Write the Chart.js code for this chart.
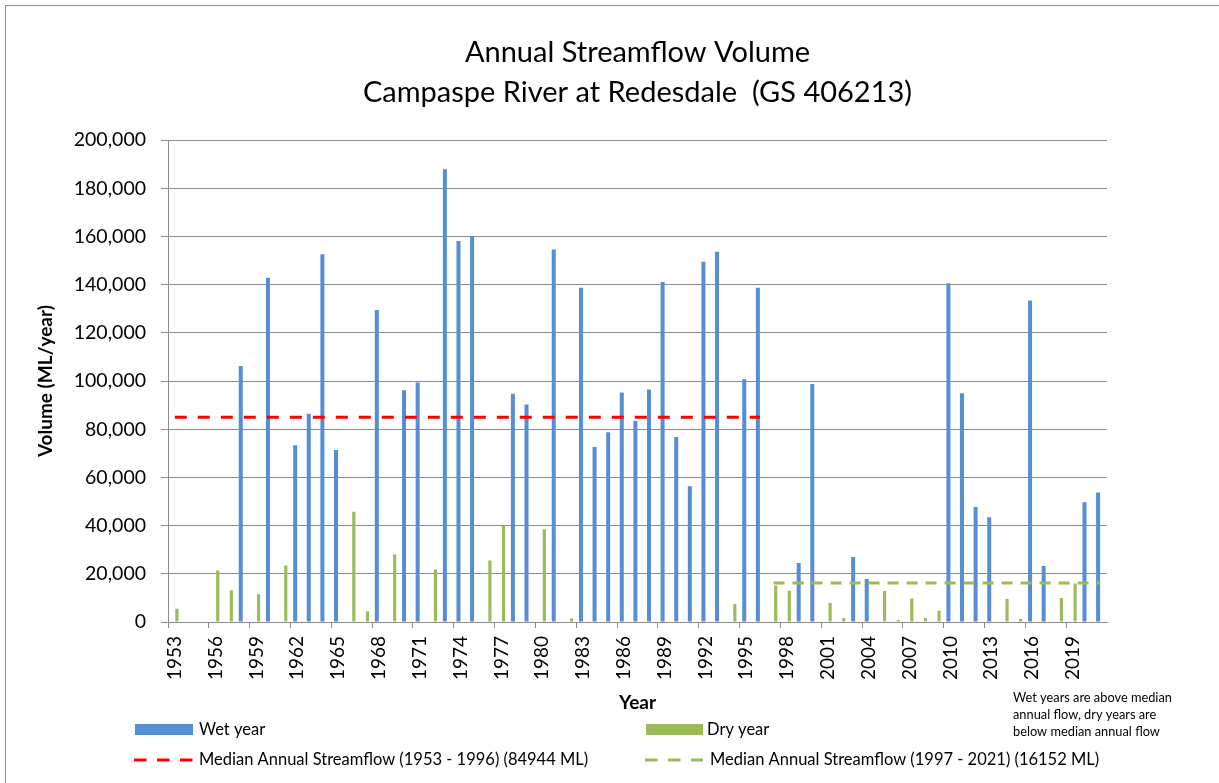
<!DOCTYPE html>
<html>
<head>
<meta charset="utf-8">
<title>Annual Streamflow Volume - Campaspe River at Redesdale</title>
<script src="https://cdn.jsdelivr.net/npm/chart.js@4.4.1/dist/chart.umd.min.js"></script>
<style>
  html, body { margin: 0; padding: 0; background: #fff; }
  #wrap { position: relative; width: 1219px; height: 783px; }
</style>
</head>
<body>
<div id="wrap"><canvas id="chart" width="1219" height="783"></canvas></div>
<script>
const years = [
  "1953", "1954", "1955", "1956", "1957", "1958", "1959", "1960", "1961", "1962",
  "1963", "1964", "1965", "1966", "1967", "1968", "1969", "1970", "1971", "1972",
  "1973", "1974", "1975", "1976", "1977", "1978", "1979", "1980", "1981", "1982",
  "1983", "1984", "1985", "1986", "1987", "1988", "1989", "1990", "1991", "1992",
  "1993", "1994", "1995", "1996", "1997", "1998", "1999", "2000", "2001", "2002",
  "2003", "2004", "2005", "2006", "2007", "2008", "2009", "2010", "2011", "2012",
  "2013", "2014", "2015", "2016", "2017", "2018", "2019", "2020", "2021"
]

// ML/year, null where the year falls in the other group (or has no record)
const wetYear = [
  null, null, null, null, null, 106300, null, 142900, null, 73400,
  86400, 152700, 71400, null, null, 129500, null, 96200, 99400, null,
  187900, 158200, 159900, null, null, 94700, 90300, null, 154600, null,
  138800, 72600, 78800, 95300, 83500, 96500, 141100, 76800, 56400, 149500,
  153700, null, 100800, 138800, null, null, 24500, 98800, null, null,
  27000, 17800, null, null, null, null, null, 140600, 95000, 47700,
  43500, null, null, 133500, 23200, null, null, 49700, 53800
]

const dryYear = [
  5500, null, null, 21400, 13200, null, 11500, null, 23500, null,
  null, null, null, 45800, 4500, null, 28000, null, null, 21800,
  null, null, null, 25500, 39800, null, null, 38500, null, 1500,
  null, null, null, null, null, null, null, null, null, null,
  null, 7500, null, null, 15200, 13000, null, null, 7900, 1700,
  null, null, 12900, 800, 9800, 1700, 4700, null, null, null,
  null, 9500, 1200, null, null, 10000, 16000, null, null
]

const medianEarlyYears = ["1953", "1996"]
const medianEarlyValue = 84944
const medianLateYears = ["1997", "2021"]
const medianLateValue = 16152

const yTicksMajor = 20000
const noteLines = [
  "Wet years are above median",
  "annual flow, dry years are",
  "below median annual flow"
]

const FONT = "Lato, 'Open Sans', sans-serif"
const GREY = "#8c8c8c"

// legend laid out in two columns like the original spreadsheet chart
const legendSlots = [
  { x: 135, y: 730, w: 58, tx: 199 },
  { x: 646, y: 730, w: 57, tx: 707 },
  { x: 134, y: 760, w: 59, tx: 199 },
  { x: 645, y: 760, w: 58, tx: 710 }
]

const gridLegend = {
  id: "gridLegend",
  afterDraw(chart) {
    const ctx = chart.ctx
    ctx.save()

    // outer frame (right and bottom edges fall outside the picture)
    ctx.strokeStyle = GREY
    ctx.lineWidth = 1
    ctx.strokeRect(5.5, 5.5, 1400, 1000)

    ctx.font = `16.5px ${FONT}`
    ctx.textBaseline = "middle"
    ctx.textAlign = "left"
    chart.data.datasets.forEach((ds, i) => {
      const slot = legendSlots[i]
      if (!slot) return
      if (ds.type === "line") {
        ctx.strokeStyle = ds.borderColor
        ctx.lineWidth = 3
        ctx.setLineDash(ds.legendDash)
        ctx.beginPath()
        ctx.moveTo(slot.x, slot.y)
        ctx.lineTo(slot.x + slot.w, slot.y)
        ctx.stroke()
        ctx.setLineDash([])
      } else {
        ctx.fillStyle = ds.backgroundColor
        ctx.fillRect(slot.x, slot.y - 6, slot.w, 11)
      }
      ctx.fillStyle = "#000"
      ctx.fillText(ds.label, slot.tx, slot.y)
    })

    ctx.font = `12.8px ${FONT}`
    noteLines.forEach((line, i) => {
      ctx.fillText(line, 1013, 698 + i * 16.7)
    })
    ctx.restore()
  }
}

new Chart(document.getElementById("chart"), {
  type: "bar",
  data: {
    labels: years,
    datasets: [
      {
        label: "Wet year",
        data: wetYear,
        backgroundColor: "#558ed5",
        categoryPercentage: 0.62,
        barPercentage: 0.95,
        order: 2
      },
      {
        label: "Dry year",
        data: dryYear,
        backgroundColor: "#9bbb59",
        categoryPercentage: 0.62,
        barPercentage: 0.75,
        order: 2
      },
      {
        type: "line",
        label: "Median Annual Streamflow (1953 - 1996) (84944 ML)",
        data: medianEarlyYears.map(y => ({ x: y, y: medianEarlyValue })),
        borderColor: "#ff0000",
        borderWidth: 3,
        borderDash: [12, 11],
        legendDash: [12.5, 10.5],
        pointRadius: 0,
        fill: false,
        order: 1
      },
      {
        type: "line",
        label: "Median Annual Streamflow (1997 - 2021) (16152 ML)",
        data: medianLateYears.map(y => ({ x: y, y: medianLateValue })),
        borderColor: "#9bbb59",
        borderWidth: 3,
        borderDash: [11, 8],
        legendDash: [12.5, 10.5],
        pointRadius: 0,
        fill: false,
        order: 1
      }
    ]
  },
  options: {
    responsive: false,
    animation: false,
    layout: {
      padding: { left: 0, right: 112, top: 0, bottom: 66 }
    },
    plugins: {
      legend: { display: false },
      tooltip: { enabled: false },
      title: {
        display: true,
        fullSize: false,
        text: ["Annual Streamflow Volume", "Campaspe River at Redesdale  (GS 406213)"],
        color: "#000",
        font: { family: FONT, size: 29, weight: "normal", lineHeight: 1.4 },
        padding: { top: 32, bottom: 27 }
      }
    },
    scales: {
      x: {
        offset: true,
        grid: {
          offset: true,
          drawOnChartArea: false,
          drawTicks: true,
          tickLength: 6,
          tickColor: (c) => (c.index % 3 === 0 ? GREY : "rgba(0,0,0,0)")
        },
        border: { display: true, color: GREY, width: 1 },
        ticks: {
          autoSkip: false,
          minRotation: 90,
          maxRotation: 90,
          padding: 8,
          color: "#000",
          font: { family: FONT, size: 19 },
          callback(value, index) {
            return index % 3 === 0 ? this.getLabelForValue(value) : ""
          }
        },
        title: {
          display: true,
          text: "Year",
          color: "#000",
          font: { family: FONT, size: 19, weight: "bold" },
          padding: { top: 0, bottom: 3 }
        },
        afterFit(scale) { scale.height = 95 }
      },
      y: {
        min: 0,
        max: 200000,
        grid: {
          color: (c) => (c.tick && c.tick.value % yTicksMajor === 0 ? GREY : "rgba(0,0,0,0)"),
          tickColor: GREY,
          tickLength: 7,
          lineWidth: 1
        },
        border: { display: true, color: GREY, width: 1 },
        ticks: {
          stepSize: 10000,
          padding: 15,
          color: "#000",
          font: { family: FONT, size: 19.5 },
          callback(value) {
            return value % yTicksMajor === 0 ? value.toLocaleString("en-US") : ""
          }
        },
        title: {
          display: true,
          text: "Volume (ML/year)",
          color: "#000",
          font: { family: FONT, size: 19, weight: "bold" },
          padding: { top: 34, bottom: 0 }
        },
        afterFit(scale) { scale.width = 168 }
      }
    }
  },
  plugins: [gridLegend]
})
</script>
</body>
</html>
